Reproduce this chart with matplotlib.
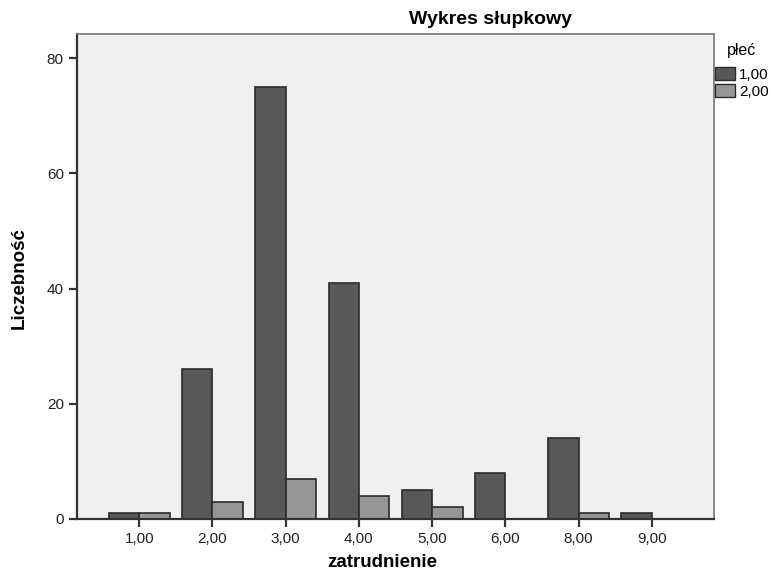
#!/usr/bin/env python3

import matplotlib
matplotlib.use('Agg')
import matplotlib.pyplot as plt
from matplotlib.patches import Patch

# zatrudnienie categories and counts per płeć
categories = ['1,00', '2,00', '3,00', '4,00', '5,00', '6,00', '8,00', '9,00']
counts_1 = [1, 26, 75, 41, 5, 8, 14, 1]
counts_2 = [1, 3, 7, 4, 2, 0, 1, 0]
y_ticks = [0, 20, 40, 60, 80]

DARK = '#585858'
LIGHT = '#969696'
EDGE = '#2b2b2b'


def main():
    plt.rcParams['font.family'] = ['Liberation Sans', 'DejaVu Sans']
    fig = plt.figure(figsize=(7.72, 5.72), dpi=100)
    ax = fig.add_axes([0.0997, 0.0927, 0.8253, 0.8479])
    ax.set_facecolor('#f0f0f0')

    w = 0.415
    pos = list(range(len(categories)))
    ax.bar([p - w / 2 for p in pos], counts_1, width=w, color=DARK,
           edgecolor=EDGE, linewidth=1.2)
    ax.bar([p + w / 2 for p in pos if counts_2[p] > 0],
           [c for c in counts_2 if c > 0], width=w, color=LIGHT,
           edgecolor=EDGE, linewidth=1.2)

    ax.set_xlim(-0.85, 7.85)
    ax.set_ylim(0, 84.2)
    ax.set_xticks(pos)
    ax.set_xticklabels(categories, fontsize=11, color='#222222')
    ax.set_yticks(y_ticks)
    ax.set_yticklabels([str(v) for v in y_ticks], fontsize=11, color='#222222')
    ax.tick_params(axis='both', direction='out', length=6, width=1.6, color='#333333')

    for side in ('left', 'bottom'):
        ax.spines[side].set_linewidth(1.6)
        ax.spines[side].set_color('#333333')
    for side in ('top', 'right'):
        ax.spines[side].set_linewidth(1.2)
        ax.spines[side].set_color('#777777')

    fig.text(0.495, 0.016, 'zatrudnienie', fontsize=13.5, fontweight='bold',
             ha='center', va='center')
    fig.text(0.025, 0.514, 'Liczebność', fontsize=13.5, fontweight='bold',
             rotation=90, ha='center', va='center')
    fig.text(0.636, 0.966, 'Wykres słupkowy', fontsize=14, fontweight='bold',
             ha='center', va='center')

    fig.text(0.941, 0.912, 'płeć', fontsize=11.5, ha='left', va='center')
    handles = [Patch(facecolor=DARK, edgecolor=EDGE, label='1,00'),
               Patch(facecolor=LIGHT, edgecolor=EDGE, label='2,00')]
    fig.legend(handles=handles, loc='upper left',
               bbox_to_anchor=(0.926, 0.883), frameon=False,
               fontsize=11, handlelength=1.3, handleheight=0.95,
               handletextpad=0.3, labelspacing=0.15,
               borderpad=0.0, borderaxespad=0)

    plt.savefig('out.png', dpi=100)


if __name__ == '__main__':
    main()
